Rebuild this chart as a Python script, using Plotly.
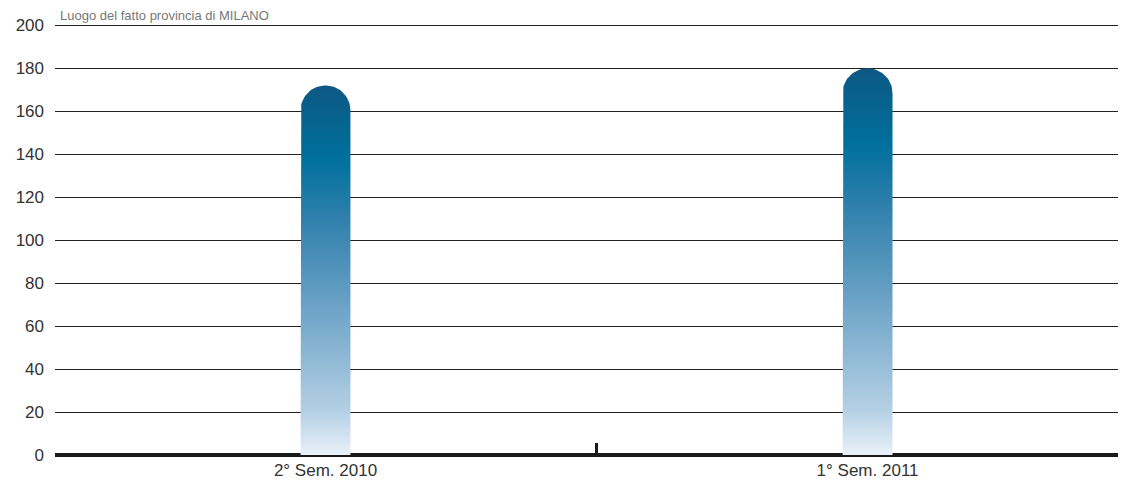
import numpy as np
import plotly.graph_objects as go

categories = ["2° Sem. 2010", "1° Sem. 2011"]
values = [172, 180]
y_ticks = [0, 20, 40, 60, 80, 100, 120, 140, 160, 180, 200]
title_text = "Luogo del fatto provincia di MILANO"

# bar geometry (data units): half width on x, cap radius on y
HALF_W = 0.046
CAP_R = 11.6

GRADIENT = [
    [0.0, "#e9f1f8"],
    [0.12, "#b3cfe4"],
    [0.45, "#5f9bc1"],
    [0.65, "#2d7fab"],
    [0.8, "#00709d"],
    [1.0, "#0c5883"],
]

fig = go.Figure()

for i, (cat, v) in enumerate(zip(categories, values)):
    theta = np.linspace(np.pi, 0, 40)
    xs = [i - HALF_W] + list(i + HALF_W * np.cos(theta)) + [i + HALF_W, i - HALF_W]
    ys = [0] + list(v - CAP_R + CAP_R * np.sin(theta)) + [0, 0]
    fig.add_trace(go.Scatter(
        x=xs, y=ys, mode="lines", fill="toself",
        line=dict(width=0),
        fillgradient=dict(type="vertical", colorscale=GRADIENT, start=0, stop=v),
        hoverinfo="text", text=f"{cat}: {v}", showlegend=False,
    ))

fig.add_annotation(
    text=title_text, xref="paper", yref="paper", x=0.003, y=1,
    xanchor="left", yanchor="bottom", yshift=-4, showarrow=False,
    font=dict(size=13, color="#777777"),
)

# page body has an 8px margin, so the figure is sized/offset to compensate
fig.update_layout(
    width=1110, height=478,
    margin=dict(l=47, r=0, t=13, b=31),
    paper_bgcolor="white", plot_bgcolor="white",
    font=dict(family="Liberation Sans, Arial, sans-serif", size=17, color="#333333"),
    xaxis=dict(
        range=[-0.499, 1.462], tickvals=[0, 1], ticktext=categories,
        showgrid=False, zeroline=False, showline=False, ticks="",
        automargin=False, ticklabelstandoff=3,
        minor=dict(tick0=0.5, dtick=1, ticks="inside", ticklen=12,
                   tickwidth=3, tickcolor="#1a1a1a", showgrid=False),
    ),
    yaxis=dict(
        range=[0, 202], tickvals=y_ticks, showgrid=True,
        gridcolor="#222222", gridwidth=1.2,
        zeroline=True, zerolinecolor="#1a1a1a", zerolinewidth=4,
        showline=False, ticks="", ticklabelstandoff=10, automargin=False,
    ),
)

fig.write_html("out.html")
